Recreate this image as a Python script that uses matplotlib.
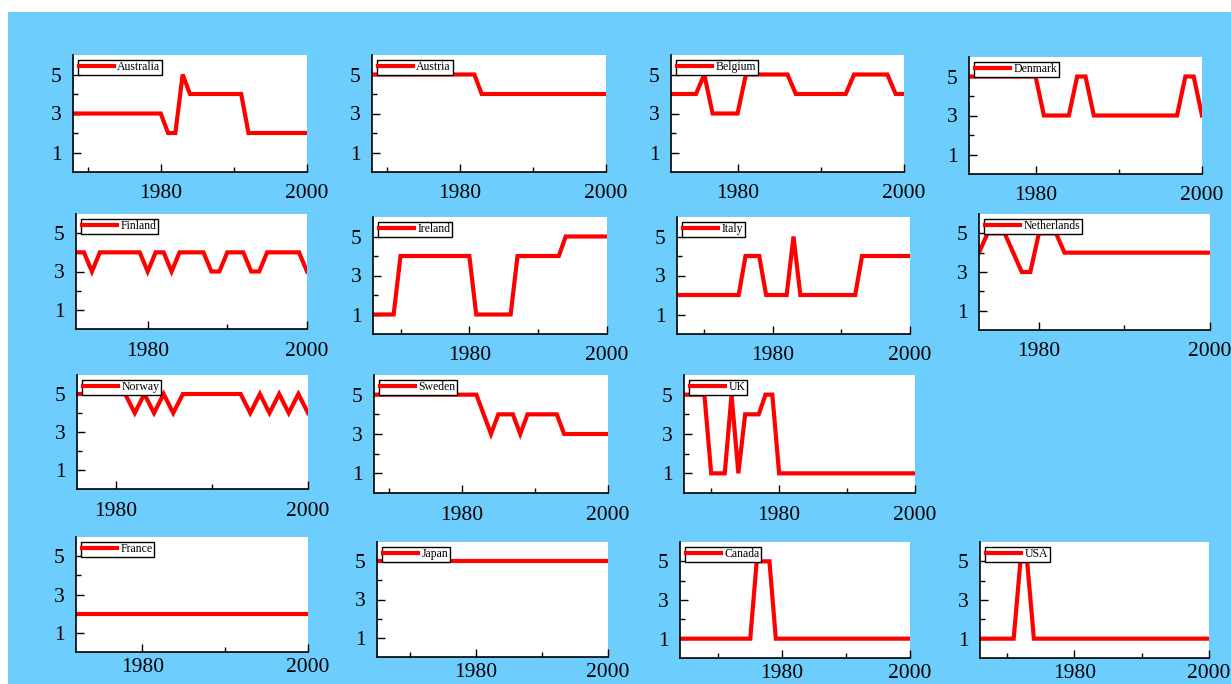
import matplotlib.pyplot as plt
from matplotlib.patches import Rectangle
from matplotlib.ticker import MultipleLocator

# one series per country, one value per year, ending in 2000
names = ['Australia', 'Austria', 'Belgium', 'Denmark',
         'Finland', 'Ireland', 'Italy', 'Netherlands',
         'Norway', 'Sweden', 'UK',
         'France', 'Japan', 'Canada', 'USA']
first_year = [1968, 1968, 1972, 1972,
              1971, 1966, 1966, 1973,
              1976, 1968, 1966,
              1972, 1965, 1964, 1966]

australia = [3, 3, 3, 3, 3, 3, 3, 3, 3, 3, 3, 3, 3, 2, 2, 5, 4, 4, 4, 4, 4, 4, 4, 4,
             2, 2, 2, 2, 2, 2, 2, 2, 2]
austria = [5, 5, 5, 5, 5, 5, 5, 5, 5, 5, 5, 5, 5, 5, 5, 4, 4, 4, 4, 4, 4, 4, 4, 4,
           4, 4, 4, 4, 4, 4, 4, 4, 4]
belgium = [4, 4, 4, 4, 5, 3, 3, 3, 3, 5, 5, 5, 5, 5, 5, 4, 4, 4, 4, 4, 4, 4, 5, 5,
           5, 5, 5, 4, 4]
denmark = [5, 5, 5, 5, 5, 5, 5, 5, 5, 3, 3, 3, 3, 5, 5, 3, 3, 3, 3, 3, 3, 3, 3, 3,
           3, 3, 5, 5, 3]
finland = [4, 4, 3, 4, 4, 4, 4, 4, 4, 3, 4, 4, 3, 4, 4, 4, 4, 3, 3, 4, 4, 4, 3, 3,
           4, 4, 4, 4, 4, 3]
ireland = [1, 1, 1, 1, 4, 4, 4, 4, 4, 4, 4, 4, 4, 4, 4, 1, 1, 1, 1, 1, 1, 4, 4, 4,
           4, 4, 4, 4, 5, 5, 5, 5, 5, 5, 5]
italy = [2, 2, 2, 2, 2, 2, 2, 2, 2, 2, 4, 4, 4, 2, 2, 2, 2, 5, 2, 2, 2, 2, 2, 2,
         2, 2, 2, 4, 4, 4, 4, 4, 4, 4, 4]
netherlands = [4, 5, 5, 5, 4, 3, 3, 5, 5, 5, 4, 4, 4, 4, 4, 4, 4, 4, 4, 4, 4, 4, 4, 4,
               4, 4, 4, 4]
norway = [5, 5, 5, 5, 5, 5, 4, 5, 4, 5, 4, 5, 5, 5, 5, 5, 5, 5, 4, 5, 4, 5, 4, 5, 4]
sweden = [5, 5, 5, 5, 5, 5, 5, 5, 5, 5, 5, 5, 5, 5, 5, 4, 3, 4, 4, 4, 3, 4, 4, 4,
          4, 4, 3, 3, 3, 3, 3, 3, 3]
uk = [5, 5, 5, 5, 1, 1, 1, 5, 1, 4, 4, 4, 5, 5, 1, 1, 1, 1, 1, 1, 1, 1, 1, 1,
      1, 1, 1, 1, 1, 1, 1, 1, 1, 1, 1]
france = [2, 2, 2, 2, 2, 2, 2, 2, 2, 2, 2, 2, 2, 2, 2, 2, 2, 2, 2, 2, 2, 2, 2, 2,
          2, 2, 2, 2, 2]
japan = [5, 5, 5, 5, 5, 5, 5, 5, 5, 5, 5, 5, 5, 5, 5, 5, 5, 5, 5, 5, 5, 5, 5, 5,
         5, 5, 5, 5, 5, 5, 5, 5, 5, 5, 5, 5]
canada = [1, 1, 1, 1, 1, 1, 1, 1, 1, 1, 1, 1, 5, 5, 5, 1, 1, 1, 1, 1, 1, 1, 1, 1,
          1, 1, 1, 1, 1, 1, 1, 1, 1, 1, 1, 1, 1]
usa = [1, 1, 1, 1, 1, 1, 5, 5, 1, 1, 1, 1, 1, 1, 1, 1, 1, 1, 1, 1, 1, 1, 1, 1,
       1, 1, 1, 1, 1, 1, 1, 1, 1, 1, 1]

series = [australia, austria, belgium, denmark, finland, ireland, italy, netherlands,
          norway, sweden, uk, france, japan, canada, usa]

# panel boxes in pixels: left, right, top, bottom
boxes = [(73, 307, 55, 172), (372, 606, 55, 172), (671, 904, 55, 172), (969, 1202, 57, 174),
         (76, 307, 214, 329), (373, 607, 217, 334), (677, 910, 217, 334), (979, 1210, 214, 330),
         (77, 308, 375, 489), (374, 608, 375, 493), (684, 915, 375, 493),
         (76, 308, 537, 652), (377, 608, 542, 657), (680, 910, 542, 658), (980, 1209, 542, 658)]

W, H = 1231, 684
plt.rcParams['font.family'] = ['Liberation Serif', 'DejaVu Serif']
fig = plt.figure(figsize=(W / 100, H / 100), dpi=100, facecolor='white')
# blue backdrop, leaving a thin white margin top and left
fig.patches.append(Rectangle((8 / W, 0), 1 - 8 / W, 1 - 12 / H, transform=fig.transFigure,
                             facecolor='#6dcefe', edgecolor='none', zorder=-5))

for i, (name, y0, vals, (l, r, t, b)) in enumerate(zip(names, first_year, series, boxes)):
    ax = fig.add_axes([l / W, 1 - b / H, (r - l) / W, (b - t) / H])
    years = list(range(y0, y0 + len(vals)))
    ax.plot(years, vals, c='#ff0000', lw=3, label=name, solid_joinstyle='miter')
    ax.set_xlim(y0, 2000)
    ax.set_ylim(0, 6)
    ax.xaxis.set_major_locator(MultipleLocator(20))
    ax.xaxis.set_minor_locator(MultipleLocator(10))
    ax.set_yticks([1, 3, 5])
    ax.set_yticks([2, 4], minor=True)
    ax.tick_params(which='both', direction='in', width=1, labelsize=15.5)
    ax.tick_params(axis='x', pad=4 if i >= 11 else 9)
    ax.tick_params(axis='y', pad=8)
    ax.tick_params(which='major', length=6)
    ax.tick_params(which='minor', length=3.5)
    ax.tick_params(axis='y', which='both', right=False)
    ax.tick_params(axis='x', which='both', top=False)
    for side in ['top', 'right']:
        ax.spines[side].set_visible(False)
    for side in ['left', 'bottom']:
        ax.spines[side].set_linewidth(1.2)
    leg = ax.legend(loc='upper left', fontsize=8.5, fancybox=False, framealpha=1,
                    edgecolor='black', borderpad=0.15, handlelength=2.9,
                    handletextpad=0.3, borderaxespad=0.4)
    leg.get_frame().set_linewidth(1)

fig.savefig('out.png', dpi=100, facecolor=fig.get_facecolor())
